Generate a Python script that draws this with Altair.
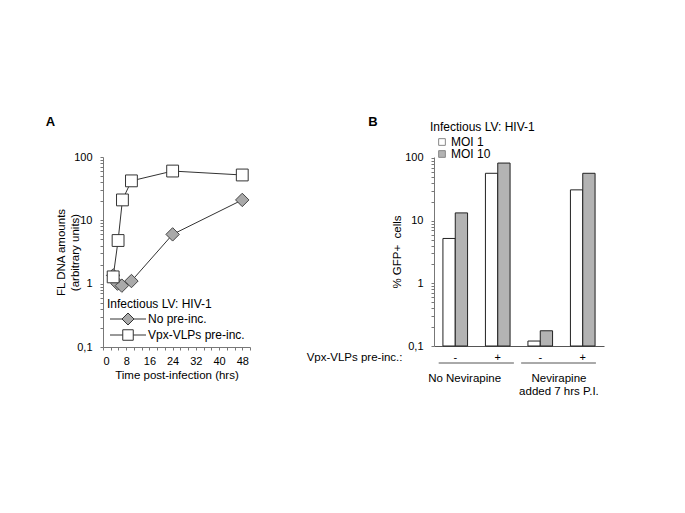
import altair as alt
import pandas as pd

FONT = "Liberation Sans"

# ---------------- Panel A data ----------------
series_names = ["No pre-inc.", "Vpx-VLPs pre-inc."]
hours_no = [3.5, 5.0, 6.5, 9.8, 24, 48]
dna_no = [1.35, 1.0, 0.93, 1.1, 6.0, 21]
hours_vpx = [3.5, 5.2, 6.7, 9.8, 24, 48]
dna_vpx = [1.28, 4.8, 21, 42, 60, 52]

x_ticks_a = [i * 8 / 3 for i in range(20)]
log_ticks = [m * 10 ** e for e in (-1, 0, 1) for m in range(1, 10)] + [100]

# ---------------- Panel B data ----------------
groups = ["1-", "2+", "3-", "4+"]
pre_inc = ["-", "+", "-", "+"]
moi_names = ["MOI 1", "MOI 10"]
gfp_moi1 = [5.2, 57, 0.12, 31]
gfp_moi10 = [13.3, 83, 0.175, 57]
cond_labels = ["No Nevirapine", "Nevirapine\nadded 7 hrs P.I."]
# bracket spans and label centres, in units of the four group slots (0..4)
cond_span_start = [0.11, 2.05]
cond_span_end = [1.88, 3.81]
cond_label_pos = [0.72, 2.94]

dfA = pd.DataFrame({
    "series": [series_names[0]] * len(hours_no) + [series_names[1]] * len(hours_vpx),
    "hours": hours_no + hours_vpx,
    "dna": dna_no + dna_vpx,
})

dfB = pd.DataFrame({
    "group": groups * 2,
    "moi": [moi_names[0]] * 4 + [moi_names[1]] * 4,
    "value": gfp_moi1 + gfp_moi10,
})
dfR = pd.DataFrame({"s": cond_span_start, "e": cond_span_end,
                    "pos": cond_label_pos, "label": cond_labels})

log_label = ("datum.value == 0.1 ? '0,1' : (datum.value == 1 || datum.value == 10 || "
             "datum.value == 100) ? format(datum.value, 'd') : ''")

# ---------------- Panel A ----------------
xA = alt.X("hours:Q",
           scale=alt.Scale(domain=[0, 152 / 3], nice=False, zero=False),
           axis=alt.Axis(values=x_ticks_a,
                         labelExpr="abs(datum.value/8 - round(datum.value/8)) < 0.01 ? format(datum.value, 'd') : ''",
                         title="Time post-infection (hrs)", tickSize=3, labelPadding=5,
                         titlePadding=3, grid=False))
yA = alt.Y("dna:Q",
           scale=alt.Scale(type="log", domain=[0.1, 100], nice=False),
           axis=alt.Axis(values=log_ticks, labelExpr=log_label,
                         title=["FL DNA amounts", "(arbitrary units)"], tickSize=3,
                         labelPadding=8, titlePadding=-6.5, grid=False))

linesA = alt.Chart(dfA).mark_line(color="#333333", strokeWidth=1).encode(
    x=xA, y=yA, detail="series:N")
pts_no = alt.Chart(dfA).transform_filter(alt.datum.series == series_names[0]).mark_point(
    shape="diamond", size=180, fill="#a9a9a9", stroke="#444444", strokeWidth=1,
    opacity=1, fillOpacity=1).encode(x=xA, y=yA)
pts_vpx = alt.Chart(dfA).transform_filter(alt.datum.series == series_names[1]).mark_point(
    shape="square", size=140, fill="white", stroke="#333333", strokeWidth=1,
    opacity=1, fillOpacity=1).encode(x=xA, y=yA)

path_diamond = "M-2.4,0H-0.8M-0.8,0L0,-0.8L0.8,0L0,0.8ZM0.8,0H2.4"
path_square = "M-2.4,0H-0.7M-0.7,-0.7H0.7V0.7H-0.7ZM0.7,0H2.4"
legA = alt.Legend(title="Infectious LV: HIV-1", orient="none", legendX=4, legendY=142,
                  titleFontWeight="normal", titleFontSize=12, labelFontSize=12,
                  labelFontWeight="normal",
                  symbolStrokeColor="#333333", symbolStrokeWidth=1, symbolSize=225,
                  symbolOffset=13, labelOffset=12, rowPadding=0, titlePadding=0,
                  titleFont=FONT, labelFont=FONT, titleColor="black", labelColor="black")
legendA = alt.Chart(dfA).transform_filter("false").mark_point(
    size=225, strokeWidth=1, opacity=1, fillOpacity=1, filled=True).encode(
    x=xA, y=yA,
    shape=alt.Shape("series:N", scale=alt.Scale(domain=series_names, range=[path_diamond, path_square]), legend=legA),
    fill=alt.Fill("series:N", scale=alt.Scale(domain=series_names, range=["#a9a9a9", "white"]), legend=legA),
    stroke=alt.Stroke("series:N", scale=alt.Scale(domain=series_names, range=["#333333", "#333333"]), legend=legA),
)

panelA = alt.layer(linesA, pts_no, pts_vpx, legendA).properties(
    width=147, height=190,
    title=alt.TitleParams("A", anchor="start", dx=-10, fontSize=13, fontWeight="bold",
                          font=FONT, offset=22))

# ---------------- Panel B ----------------
xB_scale = alt.Scale(domain=groups, paddingInner=0.42, paddingOuter=0.21)
xB_axis = alt.Axis(labelExpr="slice(datum.value, -1)", labelAngle=0, ticks=False,
                   domainColor="#555555", labelPadding=5, grid=False,
                   title="Vpx-VLPs pre-inc.:", titleAngle=0, titleAlign="right",
                   titleX=-32, titleY=11, titleBaseline="middle", titleFontWeight="normal")
yB = alt.Y("value:Q", scale=alt.Scale(type="log", domain=[0.1, 103.7], nice=False),
           axis=alt.Axis(values=log_ticks, labelExpr=log_label, title="% GFP+\u00a0 cells",
                         tickSize=3, labelPadding=8, titlePadding=2, grid=False))
legB = alt.Legend(title="Infectious LV: HIV-1", orient="none", legendX=-4, legendY=-35,
                  titleFontWeight="normal", titleFontSize=12, labelFontSize=12,
                  labelFontWeight="normal",
                  symbolType="square", symbolSize=45, symbolStrokeColor="#888888",
                  symbolStrokeWidth=1, symbolOffset=6, labelOffset=3, rowPadding=-1,
                  titlePadding=2,
                  titleFont=FONT, labelFont=FONT, titleColor="black", labelColor="black")

bars = alt.Chart(dfB).mark_bar(stroke="#222222", strokeWidth=1).encode(
    x=alt.X("group:N", scale=xB_scale, axis=xB_axis),
    xOffset=alt.XOffset("moi:N", scale=alt.Scale(domain=moi_names)),
    y=yB,
    y2=alt.datum(0.1),
    fill=alt.Fill("moi:N", scale=alt.Scale(domain=moi_names, range=["white", "#b3b3b3"]), legend=legB),
)
slot_scale = alt.Scale(domain=[0, 4], nice=False, zero=False)
rules = alt.Chart(dfR).mark_rule(color="#555555", strokeWidth=1).encode(
    x=alt.X("s:Q", scale=slot_scale, axis=None),
    x2=alt.X2("e:Q"),
    y=alt.value(206),
)
txt = alt.Chart(dfR).mark_text(
    font=FONT, fontSize=11.5, baseline="top", lineBreak="\n", lineHeight=12.5, color="black").encode(
    x=alt.X("pos:Q", scale=slot_scale, axis=None),
    y=alt.value(216), text="label:N")
annot = alt.layer(rules, txt)

panelB = alt.layer(bars, annot).resolve_scale(x="independent").properties(
    width=170, height=189,
    title=alt.TitleParams("B", anchor="start", dx=62, fontSize=13, fontWeight="bold",
                          font=FONT, offset=-7))

chart = alt.hconcat(panelA, panelB, spacing=184, bounds="flush").resolve_scale(
    fill="independent", shape="independent", stroke="independent", x="independent", y="independent"
).resolve_legend(fill="independent", shape="independent", stroke="independent").properties(
    padding={"left": 37, "top": 108, "right": 5, "bottom": 5}
).configure(font=FONT).configure_view(stroke=None).configure_axis(
    labelFont=FONT, titleFont=FONT, labelFontSize=11, titleFontSize=11.5,
    labelColor="black", titleColor="black", domainColor="#777777", tickColor="#777777",
    titleFontWeight="normal"
)

chart.save("out.html", embed_options={"renderer": "svg", "actions": False})
